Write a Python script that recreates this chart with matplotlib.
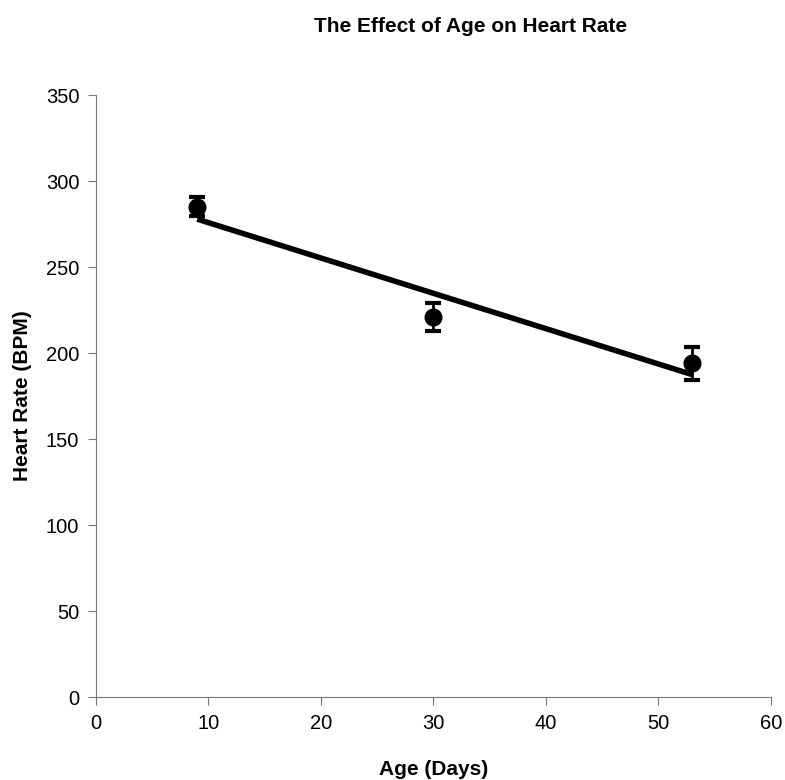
import numpy as np
from matplotlib import pyplot as plt

plt.rcParams['font.family'] = ['Liberation Sans', 'DejaVu Sans']

age = [9, 30, 53]
rate = [285, 221, 194]
err = [5.5, 8, 9.5]
xticks = [0, 10, 20, 30, 40, 50, 60]
yticks = [0, 50, 100, 150, 200, 250, 300, 350]

fig = plt.figure(figsize=(7.85, 7.8), dpi=100)
ax = fig.add_axes([0.1223, 0.1064, 0.8597, 0.7718])

# trendline through the points
m, b = np.polyfit(age, rate, 1)
xs = np.array([age[0], age[-1]])
ax.plot(xs, m * xs + b, color='black', lw=4, solid_capstyle='butt', zorder=2)

ax.errorbar(age, rate, yerr=err, fmt='o', color='black', ms=12,
            elinewidth=2, capsize=6, capthick=3, zorder=3)

ax.set_xlim(0, 60)
ax.set_ylim(0, 350)
ax.set_xticks(xticks)
ax.set_yticks(yticks)
for s in ['top', 'right']:
    ax.spines[s].set_visible(False)
for s in ['left', 'bottom']:
    ax.spines[s].set_color('#777777')
    ax.spines[s].set_linewidth(0.8)
ax.tick_params(direction='out', length=6, color='#777777', labelsize=14.5, pad=6)

ax.set_xlabel('Age (Days)', fontsize=15, fontweight='bold', labelpad=20)
ax.set_ylabel('Heart Rate (BPM)', fontsize=15, fontweight='bold', labelpad=10)
fig.text(0.599, 1 - 27 / 780, 'The Effect of Age on Heart Rate', ha='center', va='center',
         fontsize=15, fontweight='bold')

plt.savefig('out.png', dpi=100)
